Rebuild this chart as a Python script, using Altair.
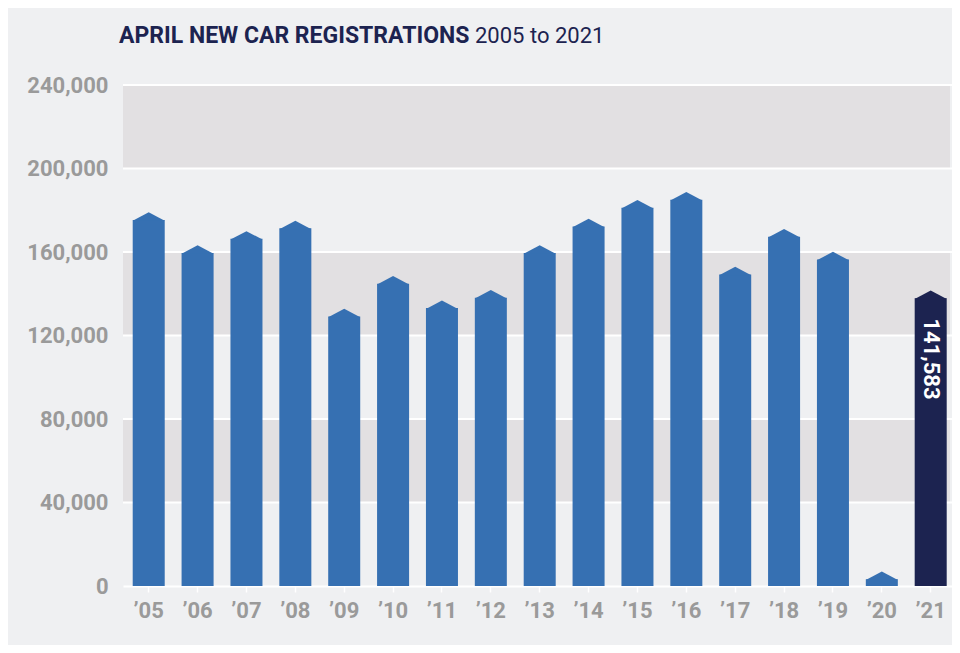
import altair as alt
import pandas as pd

years = ["’05", "’06", "’07", "’08", "’09", "’10", "’11", "’12", "’13",
         "’14", "’15", "’16", "’17", "’18", "’19", "’20", "’21"]
registrations = [179000, 163200, 170000, 175000, 132800, 148500, 136800, 141800,
                 163200, 175900, 184900, 188700, 152900, 171000, 160100, 6900, 141583]
highlight = [False] * 16 + [True]

y_ticks = [0, 40000, 80000, 120000, 160000, 200000, 240000]
band_lo = [40000, 120000, 200000]
band_hi = [80000, 160000, 240000]

title_bold = "APRIL NEW CAR REGISTRATIONS"
title_light = "2005 to 2021"
label_text = "141,583"

BG = "#eff0f2"
BAND = "#e2e0e2"
BLUE = "#3670b2"
NAVY = "#1c2350"
GRAY = "#9a9a9a"
FONT = "Roboto"

W, H = 829, 501
Y_MAX = 240000
ROOF_PX = 8
roof_units = ROOF_PX / H * Y_MAX  # height of the pointed cap in data units

df = pd.DataFrame({"year": years, "value": registrations, "hl": highlight})
bands = pd.DataFrame({"lo": band_lo, "hi": band_hi})

x_scale = alt.Scale(domain=years, paddingInner=0.345, paddingOuter=0.1535, align=0.647)
y_scale = alt.Scale(domain=[0, Y_MAX], nice=False)

y_axis = alt.Axis(values=y_ticks, format=",.0f", labelFont=FONT, labelFontWeight="bold",
                  labelFontSize=22, labelColor=GRAY, labelPadding=15, domain=False,
                  ticks=False, grid=False, title=None)
x_axis = alt.Axis(labelAngle=0, labelFont=FONT, labelFontWeight="bold", labelFontSize=22,
                  labelColor=GRAY, labelPadding=8, domainColor="white", domainWidth=2,
                  tickColor="white", tickWidth=1.5, tickSize=6, ticks=True, title=None)

color = alt.Color("hl:N", scale=alt.Scale(domain=[False, True], range=[BLUE, NAVY]), legend=None)

band_layer = alt.Chart(bands).mark_rect(color=BAND).encode(
    y=alt.Y("hi:Q", scale=y_scale, axis=y_axis),
    y2="lo:Q",
    x=alt.value(0),
    x2=alt.value(W - 2),
)

grid_layer = alt.Chart(pd.DataFrame({"t": y_ticks[1:]})).mark_rule(color="white", strokeWidth=2).encode(
    y=alt.Y("t:Q", scale=y_scale, axis=y_axis),
    x=alt.value(0),
    x2=alt.value(W),
)

body = alt.Chart(df).transform_calculate(
    top=f"max(0, datum.value - {roof_units} + 150)", base="0"
).mark_bar().encode(
    x=alt.X("year:N", scale=x_scale, sort=years, axis=x_axis),
    y=alt.Y("top:Q", scale=y_scale, axis=y_axis),
    y2="base:Q",
    color=color,
)

roof = alt.Chart(df).mark_point(shape="M-1,0.53 L0,0 L1,0.53 Z", filled=True, opacity=1,
                                strokeWidth=0, size=1024).encode(
    x=alt.X("year:N", scale=x_scale, sort=years, axis=x_axis),
    y=alt.Y("value:Q", scale=y_scale, axis=y_axis),
    color=color,
)

label = alt.Chart(df[df["hl"]]).mark_text(angle=90, align="left", baseline="middle", dx=28,
                                          color="white", font=FONT, fontWeight="bold",
                                          fontSize=22).encode(
    x=alt.X("year:N", scale=x_scale, sort=years, axis=x_axis),
    y=alt.Y("value:Q", scale=y_scale, axis=y_axis),
    text=alt.value(label_text),
)

t1 = alt.Chart(pd.DataFrame({"t": [title_bold]})).mark_text(
    align="left", baseline="alphabetic", font=FONT, fontWeight="bold", fontSize=23, color=NAVY
).encode(text="t:N", x=alt.value(-4), y=alt.value(-42))

t2 = alt.Chart(pd.DataFrame({"t": [title_light]})).mark_text(
    align="left", baseline="alphabetic", font=FONT, fontWeight="normal", fontSize=22, color=NAVY
).encode(text="t:N", x=alt.value(352), y=alt.value(-42))

chart = alt.layer(band_layer, grid_layer, body, roof, label, t1, t2).properties(
    width=W, height=H, background=BG,
    autosize=alt.AutoSizeParams(type="none"),
    padding={"left": 115, "top": 77, "right": 0, "bottom": 59},
).configure_view(stroke=None)

chart.save("out.html", embed_options={"renderer": "svg", "actions": False})
